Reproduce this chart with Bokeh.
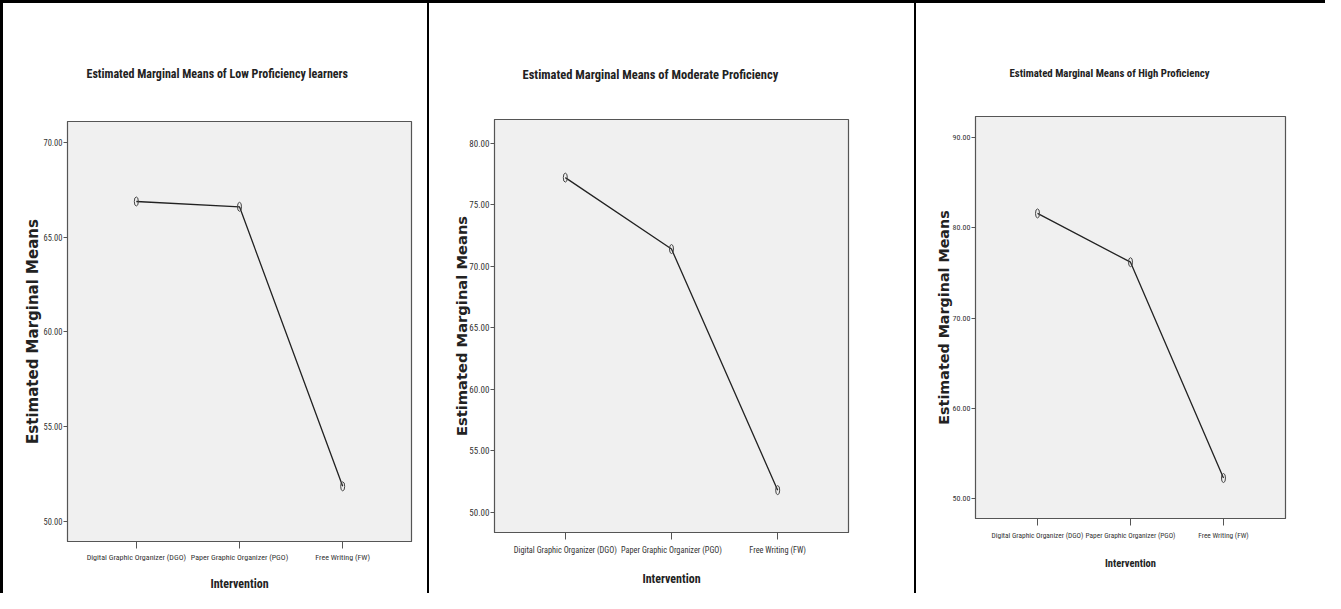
from bokeh.plotting import figure
from bokeh.layouts import row, column
from bokeh.models import Spacer, FixedTicker, NumeralTickFormatter, ColumnDataSource
from bokeh.embed import file_html
from bokeh.resources import INLINE

# ---- data ----
categories = ["Digital Graphic Organizer (DGO)", "Paper Graphic Organizer (PGO)", "Free Writing (FW)"]
low_means = [66.88, 66.60, 51.85]
moderate_means = [77.20, 71.40, 51.82]
high_means = [81.60, 76.20, 52.30]

titles = ["Estimated Marginal Means of Low Proficiency learners",
          "Estimated Marginal Means of Moderate Proficiency",
          "Estimated Marginal Means of High Proficiency"]
y_ticks_low = [50, 55, 60, 65, 70]
y_ticks_moderate = [50, 55, 60, 65, 70, 75, 80]
y_ticks_high = [50, 60, 70, 80, 90]
x_label = "Intervention"
y_label = "Estimated Marginal Means"

NARROW = "Roboto Condensed"
WIDE = "DejaVu Sans"


def make_panel(title, values, y_range, y_ticks, width, height, borders, st):
    left, right, top, bottom = borders
    p = figure(width=width, height=height, output_backend="svg", toolbar_location=None,
               x_range=(-0.667, len(categories) - 1 + 0.667), y_range=y_range,
               min_border_left=left, min_border_right=right,
               min_border_top=top, min_border_bottom=bottom,
               background_fill_color="#f0f0f0", border_fill_color="white",
               outline_line_color="#555555", outline_line_width=1.2)
    p.frame_align = False
    p.title.text = title
    p.title.align = "left"
    p.title.offset = st["title_offset"]
    p.title.standoff = st["title_standoff"]
    p.title.text_font = NARROW
    p.title.text_font_size = st["title_size"]
    p.title.text_font_style = "bold"
    p.title.text_color = "#222222"

    xs = list(range(len(categories)))
    src = ColumnDataSource(dict(x=xs, y=values))
    p.line("x", "y", source=src, line_color="#222222", line_width=1.3)
    p.ellipse("x", "y", width=4, height=9, width_units="screen", height_units="screen",
              source=src, fill_color=None, line_color="#444444", line_width=1)

    p.xgrid.visible = False
    p.ygrid.visible = False

    xa = p.xaxis[0]
    xa.ticker = FixedTicker(ticks=xs)
    xa.major_label_overrides = {i: c for i, c in zip(xs, categories)}
    xa.minor_tick_line_color = None
    xa.major_tick_in = 0
    xa.major_tick_out = 7
    xa.major_tick_line_color = "#555555"
    xa.axis_line_color = "#555555"
    xa.major_label_standoff = st["xtick_standoff"]
    xa.major_label_text_font = NARROW
    xa.major_label_text_font_size = st["xtick_size"]
    xa.major_label_text_color = "#333333"
    xa.axis_label = x_label
    xa.axis_label_text_font = NARROW
    xa.axis_label_text_font_size = st["xlabel_size"]
    xa.axis_label_text_font_style = "bold"
    xa.axis_label_text_color = "#222222"
    xa.axis_label_standoff = st["xlabel_standoff"]

    ya = p.yaxis[0]
    ya.ticker = FixedTicker(ticks=y_ticks)
    ya.formatter = NumeralTickFormatter(format="0.00")
    ya.minor_tick_line_color = None
    ya.major_tick_in = 0
    ya.major_tick_out = 4
    ya.major_tick_line_color = "#555555"
    ya.axis_line_color = "#555555"
    ya.major_label_standoff = 1
    ya.major_label_text_font = NARROW
    ya.major_label_text_font_size = st["ytick_size"]
    ya.major_label_text_color = "#333333"
    ya.axis_label = y_label
    ya.axis_label_text_font = WIDE
    ya.axis_label_text_font_size = st["ylabel_size"]
    ya.axis_label_text_font_style = "bold"
    ya.axis_label_text_color = "#222222"
    ya.axis_label_standoff = st["ylabel_standoff"]
    return p


H = 590
s1 = dict(title_offset=19, title_standoff=81, title_size="12px", xtick_size="8px", xtick_standoff=4,
          xlabel_size="12px", xlabel_standoff=12, ytick_size="8.5px", ylabel_size="15px", ylabel_standoff=-2)
s2 = dict(title_offset=28, title_standoff=76, title_size="12.5px", xtick_size="8.3px", xtick_standoff=5,
          xlabel_size="12px", xlabel_standoff=14, ytick_size="9px", ylabel_size="14.7px", ylabel_standoff=-4)
s3 = dict(title_offset=34, title_standoff=73, title_size="10.8px", xtick_size="7.4px", xtick_standoff=5,
          xlabel_size="10.5px", xlabel_standoff=14, ytick_size="8px", ylabel_size="14.3px", ylabel_standoff=-2)

p1 = make_panel(titles[0], low_means, (48.94, 71.10), y_ticks_low, 424, H, (64, 16, 118, 52), s1)
p2 = make_panel(titles[1], moderate_means, (48.38, 81.92), y_ticks_moderate, 485, H, (65, 66, 116, 61), s2)
p3 = make_panel(titles[2], high_means, (47.82, 92.33), y_ticks_high, 409, H, (59, 40, 113, 75), s3)

black = {"background-color": "black"}
top_line = Spacer(width=1325, height=3, styles=black)
panels = row(
    Spacer(width=3, height=H, styles=black), p1,
    Spacer(width=2, height=H, styles=black), p2,
    Spacer(width=2, height=H, styles=black), p3,
)
layout = column(top_line, panels)

open("out.html", "w").write(file_html(layout, INLINE))
